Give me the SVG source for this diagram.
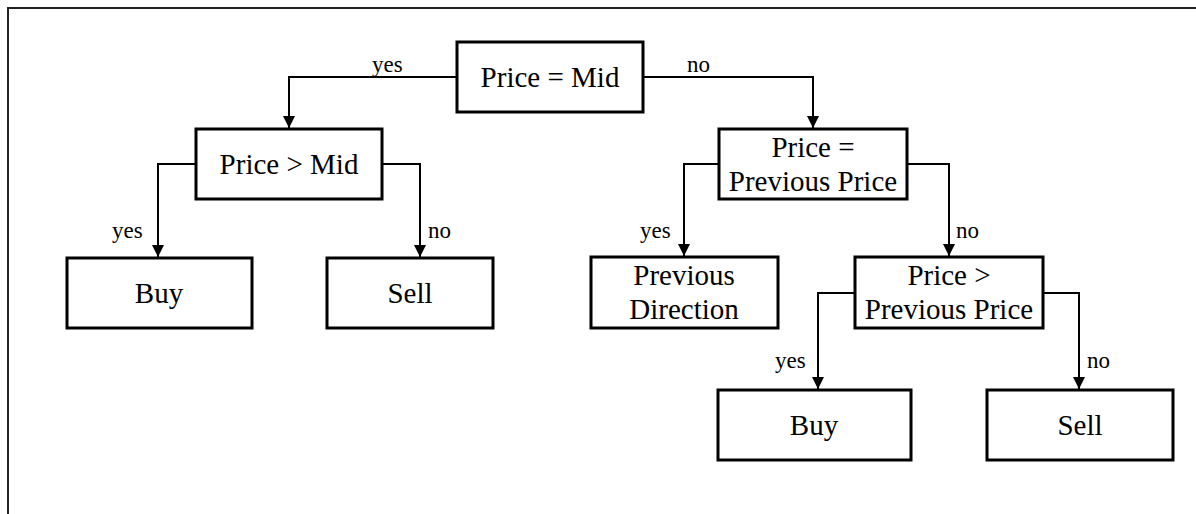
<svg xmlns="http://www.w3.org/2000/svg" width="1196" height="514" viewBox="0 0 1196 514">
<defs>
<marker id="arr" markerUnits="userSpaceOnUse" markerWidth="12" markerHeight="12" viewBox="0 0 12 12" refX="12" refY="6" orient="auto">
<path d="M0,0 L12,6 L0,12 Z" fill="#000"/>
</marker>
</defs>
<style>
.box{fill:#fff;stroke:#000;stroke-width:3}
.t{font-family:"Liberation Serif","Times New Roman",serif;font-size:29px;text-anchor:middle;fill:#000}
.l{font-family:"Liberation Serif","Times New Roman",serif;font-size:23px;fill:#000}
.c{fill:none;stroke:#000;stroke-width:2}
</style>
<rect x="0" y="0" width="1196" height="514" fill="#fff"/>
<path d="M8,520 L8,8 L1200,8" fill="none" stroke="#222" stroke-width="2"/>
<g id="connectors">
<path class="c" d="M457,77 L289,77 L289,128" marker-end="url(#arr)"/>
<path class="c" d="M643,77 L813,77 L813,128" marker-end="url(#arr)"/>
<path class="c" d="M196,164 L158,164 L158,257" marker-end="url(#arr)"/>
<path class="c" d="M382,164 L420,164 L420,257" marker-end="url(#arr)"/>
<path class="c" d="M719,164 L684,164 L684,256" marker-end="url(#arr)"/>
<path class="c" d="M907,164 L949,164 L949,256" marker-end="url(#arr)"/>
<path class="c" d="M855,293 L818,293 L818,389" marker-end="url(#arr)"/>
<path class="c" d="M1043,293 L1079,293 L1079,389" marker-end="url(#arr)"/>
<text class="l" x="372" y="72">yes</text>
<text class="l" x="687" y="72">no</text>
<text class="l" x="112" y="238">yes</text>
<text class="l" x="428" y="238">no</text>
<text class="l" x="640" y="238">yes</text>
<text class="l" x="956" y="238">no</text>
<text class="l" x="775" y="368">yes</text>
<text class="l" x="1087" y="368">no</text>
</g>
<g id="n1"><rect class="box" x="457" y="42" width="186" height="70"/><text class="t" x="550" y="87">Price = Mid</text></g>
<g id="n2"><rect class="box" x="196" y="129" width="186" height="70"/><text class="t" x="289" y="174">Price &gt; Mid</text></g>
<g id="n3"><rect class="box" x="67" y="258" width="185" height="70"/><text class="t" x="159" y="303">Buy</text></g>
<g id="n4"><rect class="box" x="327" y="258" width="166" height="70"/><text class="t" x="410" y="303">Sell</text></g>
<g id="n5"><rect class="box" x="719" y="129" width="188" height="70"/><text class="t" x="813" y="157">Price =</text><text class="t" x="813" y="191">Previous Price</text></g>
<g id="n6"><rect class="box" x="591" y="257" width="187" height="71"/><text class="t" x="684" y="285">Previous</text><text class="t" x="684" y="319">Direction</text></g>
<g id="n7"><rect class="box" x="855" y="257" width="188" height="71"/><text class="t" x="949" y="285">Price &gt;</text><text class="t" x="949" y="319">Previous Price</text></g>
<g id="n8"><rect class="box" x="718" y="390" width="193" height="70"/><text class="t" x="814" y="435">Buy</text></g>
<g id="n9"><rect class="box" x="987" y="390" width="186" height="70"/><text class="t" x="1080" y="435">Sell</text></g>
</svg>
